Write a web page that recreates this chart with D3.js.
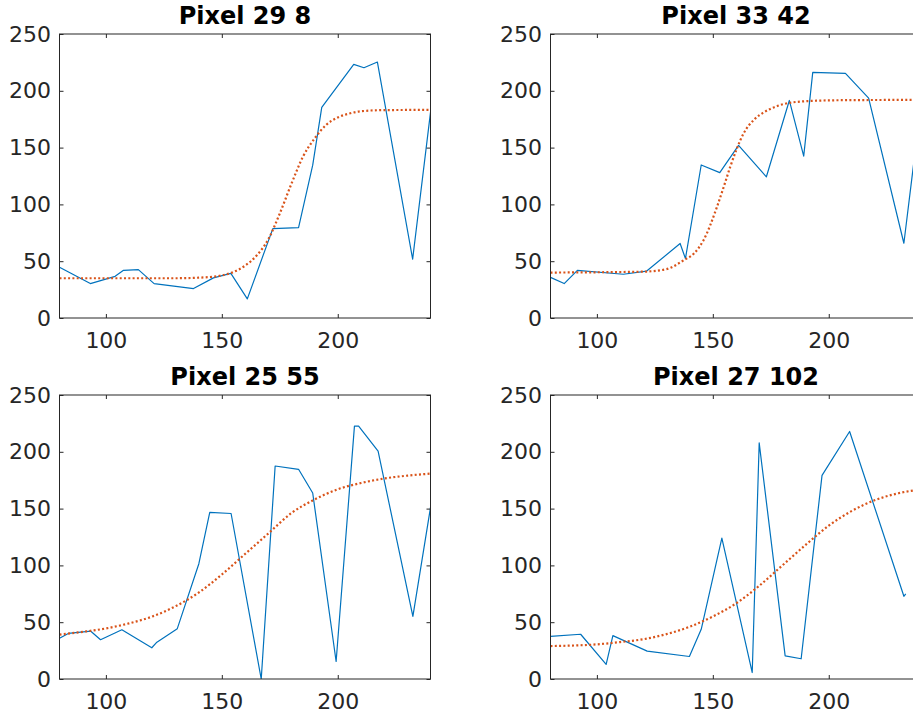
<!DOCTYPE html>
<html>
<head>
<meta charset="utf-8">
<script src="https://cdn.jsdelivr.net/npm/d3@7"></script>
<style>
  html, body { margin: 0; padding: 0; background: #fff; }
  svg { display: block; }
</style>
</head>
<body>
<script>
// ---------- DATA ----------
const titles = ["Pixel 29 8", "Pixel 33 42", "Pixel 25 55", "Pixel 27 102"];
const xTicks = [100, 150, 200];
const yTicks = [0, 50, 100, 150, 200, 250];
const xDomain = [80, 240];
const yDomain = [0, 250];

// measured intensity (blue line)
const x1 = [80, 93.3, 104, 107.6, 114, 120.8, 137.8, 146.4, 153.9, 161, 172, 183.1, 189.2, 193.1, 206.9, 211.3, 217.1, 232.3, 240];
const y1 = [44.7, 30.3, 36.7, 42, 42.6, 30.3, 25.9, 35.3, 39.3, 16.8, 78.7, 79.5, 134.5, 185.4, 223.3, 220.3, 225.3, 51.8, 181];

const x2 = [80, 85.9, 91.6, 111.4, 121.5, 135.9, 138.2, 145, 153, 161.1, 173.1, 183, 189.2, 193.1, 207.2, 217.2, 232.4, 240];
const y2 = [35.8, 30.3, 41.9, 38.5, 41.3, 65.6, 52.3, 134.7, 128, 151.9, 124.3, 191.5, 142.5, 216.2, 215.3, 193.6, 65.8, 192];

const x3 = [80, 83.8, 93.5, 97.7, 106.9, 119.8, 122, 130.8, 140.1, 144.8, 154, 167, 173, 183.1, 189.2, 199.3, 207.2, 209, 217.4, 232.4, 240];
const y3 = [35.8, 40.1, 42.1, 34.6, 43.3, 27.5, 32.4, 44.3, 101.5, 146.6, 145.7, 0, 187.5, 184.6, 163.7, 15.4, 222.6, 222.6, 200.6, 55.1, 151];

const x4 = [80, 93, 104, 106.9, 121.7, 139.9, 145, 153.9, 167, 170, 181.2, 188.1, 197.1, 209, 232.4, 233.2];
const y4 = [37.5, 39.4, 12.8, 38.2, 24.5, 19.8, 43.7, 124.1, 5.7, 207.8, 20.4, 17.8, 179.3, 217.9, 72.8, 75];

// fitted curve (orange dotted), read at sample positions
const fx1 = [80, 130, 140, 150, 155, 160, 165, 170, 175, 180, 185, 190, 195, 200, 205, 210, 220, 240];
const fy1 = [35, 35, 35.5, 37.5, 40.5, 46, 55, 69, 92, 118, 142, 158, 170, 176.5, 180, 182, 183, 183.2];

const fx2 = [80, 120, 130, 137.4, 142, 146, 151.8, 154.8, 157.5, 163.3, 168, 172, 177, 183.4, 195, 210, 240];
const fy2 = [40, 40.8, 43, 50.8, 57, 68.5, 97.8, 116, 133, 162.5, 175, 181, 186, 189.5, 191.3, 191.8, 192];

const fx3 = [80, 90, 100, 110, 120, 130, 140, 150, 160, 170, 180, 190, 200, 210, 220, 230, 240];
const fy3 = [39, 41.5, 44.5, 49, 55, 64, 76, 92, 110, 128, 146, 158, 167, 172.5, 176.5, 179, 180.8];

const fx4 = [80, 100, 110, 120, 130, 140, 150, 160, 170, 180, 190, 200, 210, 220, 230, 240];
const fy4 = [29, 30.5, 32.5, 35, 39.5, 46, 55, 66.5, 82, 100, 118, 135, 148, 157.5, 163.5, 167];

const dataX = [x1, x2, x3, x4];
const dataY = [y1, y2, y3, y4];
const fitX = [fx1, fx2, fx3, fx4];
const fitY = [fy1, fy2, fy3, fy4];

// ---------- LAYOUT ----------
const W = 913, H = 718;
const pw = 371, ph = 284;
const origins = [{x: 59.5, y: 34}, {x: 550.5, y: 34}, {x: 59.5, y: 395}, {x: 550.5, y: 395}];
const axisColor = "#262626";
const font = "'DejaVu Sans', 'Liberation Sans', sans-serif";

const svg = d3.select("body").append("svg")
  .attr("width", W).attr("height", H)
  .style("background", "#fff");

titles.forEach((title, i) => {
  const o = origins[i];
  const g = svg.append("g").attr("transform", `translate(${o.x},${o.y})`);
  const x = d3.scaleLinear().domain(xDomain).range([0, pw]);
  const y = d3.scaleLinear().domain(yDomain).range([ph, 0]);

  const clipId = "clip" + i;
  g.append("clipPath").attr("id", clipId)
    .append("rect").attr("x", 0).attr("y", 0).attr("width", pw).attr("height", ph);

  const plot = g.append("g").attr("clip-path", `url(#${clipId})`);

  const pts = dataX[i].map((v, k) => [v, dataY[i][k]]);
  plot.append("path")
    .datum(pts)
    .attr("fill", "none")
    .attr("stroke", "#0072BD")
    .attr("stroke-width", 1.2)
    .attr("stroke-linejoin", "round")
    .attr("d", d3.line().x(d => x(d[0])).y(d => y(d[1])));

  const fpts = fitX[i].map((v, k) => [v, fitY[i][k]]);
  plot.append("path")
    .datum(fpts)
    .attr("fill", "none")
    .attr("stroke", "#D95319")
    .attr("stroke-width", 2.2)
    .attr("stroke-dasharray", "2 2.3")
    .attr("d", d3.line().curve(d3.curveMonotoneX).x(d => x(d[0])).y(d => y(d[1])));

  // axes
  const styleAxis = sel => {
    sel.select(".domain").remove();
    sel.selectAll(".tick line").attr("stroke", axisColor).attr("stroke-width", 1);
    sel.selectAll(".tick text").attr("fill", axisColor)
      .style("font-family", font).style("font-size", "22px");
  };

  g.append("g").attr("transform", `translate(0,${ph})`)
    .call(d3.axisBottom(x).tickValues(xTicks).tickSizeInner(-4).tickSizeOuter(0).tickPadding(14))
    .call(styleAxis);
  g.append("g")
    .call(d3.axisTop(x).tickValues(xTicks).tickSizeInner(-4).tickSizeOuter(0).tickFormat(""))
    .call(styleAxis);
  g.append("g")
    .call(d3.axisLeft(y).tickValues(yTicks).tickSizeInner(-4).tickSizeOuter(0).tickPadding(8.5))
    .call(styleAxis);
  g.append("g").attr("transform", `translate(${pw},0)`)
    .call(d3.axisRight(y).tickValues(yTicks).tickSizeInner(-4).tickSizeOuter(0).tickFormat(""))
    .call(styleAxis);

  g.append("rect")
    .attr("x", 0).attr("y", 0).attr("width", pw).attr("height", ph)
    .attr("fill", "none").attr("stroke", axisColor).attr("stroke-width", 1);

  g.append("text")
    .attr("x", pw / 2).attr("y", -10)
    .attr("text-anchor", "middle")
    .style("font-family", font).style("font-size", "24px").style("font-weight", "bold")
    .attr("fill", "#000")
    .text(title);
});
</script>
</body>
</html>
